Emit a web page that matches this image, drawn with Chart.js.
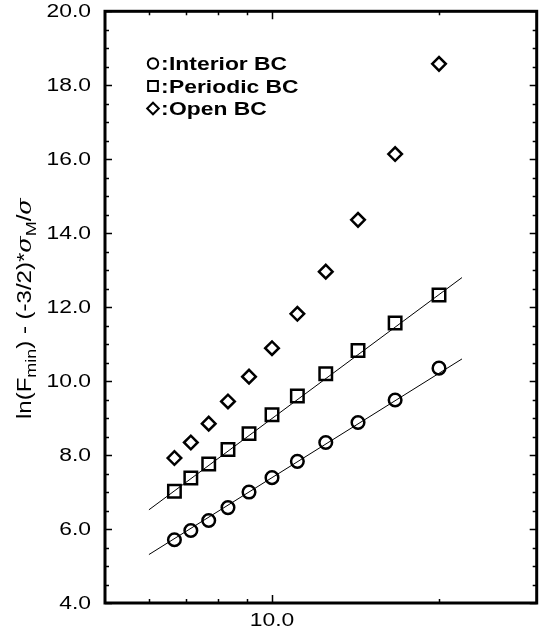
<!DOCTYPE html>
<html>
<head>
<meta charset="utf-8">
<script src="https://cdn.jsdelivr.net/npm/chart.js@4/dist/chart.umd.min.js"></script>
<style>
  html, body { margin: 0; padding: 0; background: #fff; overflow: hidden; }
  #wrap { position: relative; width: 548px; height: 634px; }
</style>
</head>
<body>
<div id="wrap"><canvas id="c" width="548" height="634"></canvas></div>
<script>
// System sizes (log axis) and the three boundary-condition series
const sizes      = [6.67, 7.14, 7.69, 8.33, 9.09, 10, 11.11, 12.5, 14.29, 16.67, 20];
const interiorBC = [5.71, 5.96, 6.23, 6.58, 7.00, 7.39, 7.83, 8.34, 8.88, 9.49, 10.35];
const periodicBC = [7.02, 7.38, 7.76, 8.15, 8.58, 9.09, 9.60, 10.20, 10.83, 11.57, 12.33];
const openBC     = [7.92, 8.34, 8.85, 9.45, 10.12, 10.89, 11.82, 12.96, 14.36, 16.14, 18.58];

// Straight-line fits (end points) through the interior and periodic data
const fitX        = [6, 22];
const interiorFit = [5.31, 10.60];
const periodicFit = [6.52, 12.80];

// Axis ranges and tick labels
const xRange = [5, 30];
const yRange = [4, 20];
const yTickValues = [4, 6, 8, 10, 12, 14, 16, 18, 20];
const yTickLabels = ['4.0', '6.0', '8.0', '10.0', '12.0', '14.0', '16.0', '18.0', '20.0'];
const xTickValues = [10];
const xTickLabels = ['10.0'];
const xMinorTicks = [6, 7, 8, 9, 20];

const legendNames = ['Interior BC', 'Periodic BC', 'Open BC'];
const legendStyles = ['circle', 'rect', 'rectRot'];

const pts = (xs, ys) => xs.map((v, i) => ({ x: v, y: ys[i] }));

const FONT = '"Liberation Sans", Arial, Helvetica, sans-serif';
const SX = 1.27; // widening of the lettering along its baseline

function wideText(ctx, text, x, y, align, sx) {
  ctx.save();
  ctx.translate(x, y);
  ctx.scale(sx, 1);
  ctx.textAlign = align;
  ctx.fillText(text, 0, 0);
  ctx.restore();
}

const decorations = {
  id: 'decorations',
  afterDatasetsDraw(chart) {
    const { ctx, chartArea: a, scales: { x, y } } = chart;
    ctx.save();
    ctx.strokeStyle = '#000';
    ctx.fillStyle = '#000';

    // inward ticks on all four sides
    ctx.lineWidth = 1.5;
    ctx.beginPath();
    for (let v = yRange[0]; v <= yRange[1] + 1e-9; v += 0.5) {
      const py = Math.round(y.getPixelForValue(v)) + 0.5;
      const len = Math.abs(v % 2) < 1e-9 ? 7 : 4;
      ctx.moveTo(a.left, py); ctx.lineTo(a.left + len, py);
      ctx.moveTo(a.right, py); ctx.lineTo(a.right - len, py);
    }
    xMinorTicks.forEach(v => {
      const px = Math.round(x.getPixelForValue(v)) + 0.5;
      ctx.moveTo(px, a.bottom); ctx.lineTo(px, a.bottom - 4);
      ctx.moveTo(px, a.top); ctx.lineTo(px, a.top + 4);
    });
    xTickValues.forEach(v => {
      const px = Math.round(x.getPixelForValue(v)) + 0.5;
      ctx.moveTo(px, a.bottom); ctx.lineTo(px, a.bottom - 8);
      ctx.moveTo(px, a.top); ctx.lineTo(px, a.top + 8);
    });
    ctx.stroke();

    // frame
    ctx.lineWidth = 3;
    ctx.strokeRect(a.left, a.top, a.right - a.left, a.bottom - a.top);

    // tick labels
    ctx.font = '18px ' + FONT;
    ctx.textBaseline = 'middle';
    yTickValues.forEach((v, i) => {
      wideText(ctx, yTickLabels[i], a.left - 14, y.getPixelForValue(v) + 1, 'right', SX);
    });
    ctx.textBaseline = 'top';
    xTickValues.forEach((v, i) => {
      wideText(ctx, xTickLabels[i], x.getPixelForValue(v), a.bottom + 9, 'center', SX);
    });

    // y-axis title with subscripts
    ctx.save();
    ctx.translate(31, (a.top + a.bottom) / 2 + 1.5);
    ctx.rotate(-Math.PI / 2);
    ctx.scale(1.2, 1);
    ctx.textBaseline = 'alphabetic';
    ctx.textAlign = 'left';
    const big = '20px ' + FONT, small = '15px ' + FONT;
    const sig = 'italic 20px "DejaVu Serif", "Liberation Serif", serif';
    const parts = [
      ['ln(F', big, 0], ['min', small, 5], [') - (-3/2)*', big, 0],
      ['\u03C3', sig, 0], ['M', small, 5], ['/', big, 0], ['\u03C3', sig, 0]
    ];
    let total = 0;
    parts.forEach(p => { ctx.font = p[1]; total += ctx.measureText(p[0]).width; });
    let cx = -total / 2;
    parts.forEach(p => {
      ctx.font = p[1];
      ctx.fillText(p[0], cx, p[2]);
      cx += ctx.measureText(p[0]).width;
    });
    ctx.restore();

    // legend inside the plot (hollow symbols)
    const rows = [70, 92.5, 115];
    const sizesL = [5.2, 6.9, 5.8];
    legendNames.forEach((name, i) => {
      ctx.save();
      ctx.fillStyle = 'rgba(0,0,0,0)';
      ctx.strokeStyle = '#000';
      ctx.lineWidth = 2;
      Chart.helpers.drawPoint(ctx, {
        pointStyle: legendStyles[i], radius: sizesL[i], borderWidth: 2, rotation: 0
      }, 153, rows[i] - 6.5);
      ctx.restore();
      ctx.font = 'bold 18px ' + FONT;
      ctx.textBaseline = 'alphabetic';
      wideText(ctx, ':', 161, rows[i], 'left', SX);
      wideText(ctx, name, 169, rows[i], 'left', SX);
    });

    ctx.restore();
  }
};

const marker = (style, r) => ({
  pointStyle: style,
  pointRadius: r,
  pointBorderWidth: 2.5,
  pointBorderColor: '#000',
  pointBackgroundColor: 'rgba(0,0,0,0)',
  showLine: false
});

const fitLine = {
  showLine: true,
  borderColor: '#000',
  borderWidth: 1,
  pointRadius: 0,
  fill: false
};

new Chart(document.getElementById('c'), {
  type: 'scatter',
  data: {
    datasets: [
      { label: 'Interior BC', data: pts(sizes, interiorBC), ...marker('circle', 6.3) },
      { label: 'Periodic BC', data: pts(sizes, periodicBC), ...marker('rect', 8.8) },
      { label: 'Open BC', data: pts(sizes, openBC), ...marker('rectRot', 6.8) },
      { label: 'Interior fit', data: pts(fitX, interiorFit), ...fitLine },
      { label: 'Periodic fit', data: pts(fitX, periodicFit), ...fitLine }
    ]
  },
  options: {
    responsive: false,
    animation: false,
    events: [],
    layout: { padding: { left: 105, top: 11, right: 1, bottom: 31 } },
    plugins: { legend: { display: false }, tooltip: { enabled: false } },
    scales: {
      x: { type: 'logarithmic', min: xRange[0], max: xRange[1], display: false },
      y: { type: 'linear', min: yRange[0], max: yRange[1], display: false }
    }
  },
  plugins: [decorations]
});
</script>
</body>
</html>
